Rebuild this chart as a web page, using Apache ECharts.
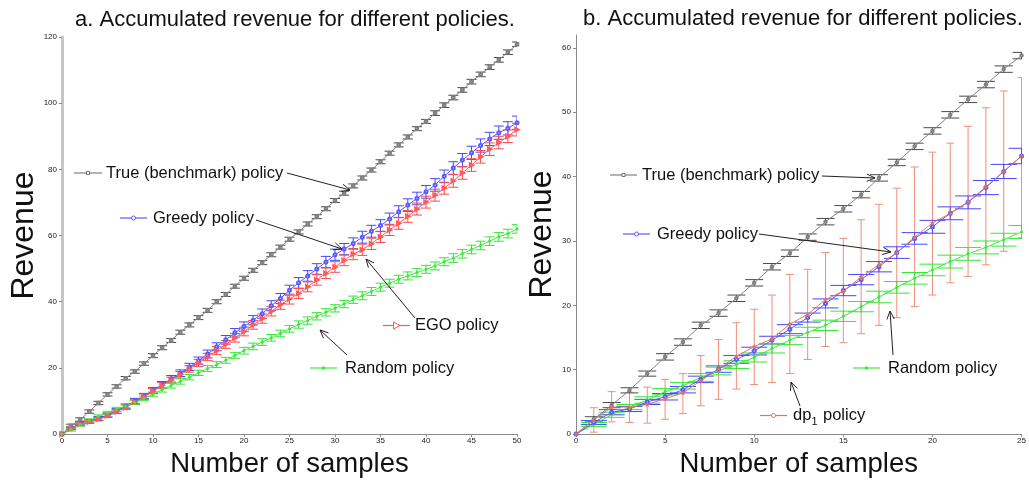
<!DOCTYPE html>
<html>
<head>
<meta charset="utf-8">
<script src="https://cdn.jsdelivr.net/npm/echarts@6/dist/echarts.min.js"></script>
<style>
  html, body { margin: 0; padding: 0; background: #fff; }
  #chart { width: 1029px; height: 483px; }
</style>
</head>
<body>
<div id="chart"></div>
<script>
// ---- panel a: 50 samples ----
const samplesA = [0, 1, 2, 3, 4, 5, 6, 7, 8, 9, 10, 11, 12, 13, 14, 15, 16, 17, 18, 19, 20,
  21, 22, 23, 24, 25, 26, 27, 28, 29, 30, 31, 32, 33, 34, 35, 36, 37, 38, 39, 40,
  41, 42, 43, 44, 45, 46, 47, 48, 49, 50]
const trueA = [0, 2.5, 4.4, 6.8, 9.4, 12.0, 14.4, 16.9, 18.9, 21.3, 23.7, 26.1, 28.3, 30.8, 33.0, 35.2,
  37.4, 40.0, 42.2, 44.7, 47.1, 49.5, 51.8, 54.2, 56.5, 58.9, 61.1, 63.5, 65.7, 68.1, 70.6,
  72.8, 75.0, 77.4, 79.8, 82.3, 84.9, 87.4, 89.8, 92.3, 94.5, 97.0, 99.4, 101.7, 104.0, 106.5,
  108.7, 110.9, 113.1, 115.4, 117.8]
const trueErrA = [0, 0.5, 0.5, 0.5, 0.5, 0.5, 0.5, 0.5, 0.5, 0.5, 0.6, 0.6, 0.6, 0.6, 0.6, 0.6,
  0.6, 0.6, 0.6, 0.6, 0.6, 0.6, 0.6, 0.6, 0.6, 0.6, 0.6, 0.6, 0.6, 0.6, 0.6,
  0.6, 0.6, 0.6, 0.6, 0.6, 0.6, 0.6, 0.6, 0.6, 0.6, 0.7, 0.7, 0.7, 0.7, 0.7,
  0.7, 0.7, 0.7, 0.7, 0.7]
const greedyA = [0, 1.8, 3.3, 3.9, 4.7, 5.8, 7.0, 8.4, 10.0, 11.5, 13.2, 15.0, 16.7, 18.4, 20.3, 22.2,
  24.2, 26.4, 28.5, 30.6, 32.5, 34.4, 36.4, 38.8, 41.0, 43.5, 45.7, 47.8, 49.9, 52.0, 54.2,
  55.9, 57.6, 59.5, 61.3, 63.0, 65.0, 67.2, 69.2, 71.2, 73.2, 75.3, 77.9, 80.4, 82.8, 85.0,
  87.2, 89.2, 91.1, 92.4, 94.1]
const greedyErrA = [0, 0.4, 0.5, 0.5, 0.6, 0.6, 0.7, 0.7, 0.8, 0.8, 0.9, 0.9, 1.0, 1.0, 1.1, 1.1,
  1.2, 1.2, 1.3, 1.3, 1.4, 1.4, 1.4, 1.5, 1.5, 1.5, 1.6, 1.6, 1.6, 1.7, 1.7,
  1.7, 1.7, 1.8, 1.8, 1.8, 1.8, 1.8, 1.9, 1.9, 1.9, 1.9, 1.9, 1.9, 2.0, 2.0,
  2.0, 2.0, 2.0, 2.0, 2.0]
const egoA = [0, 1.7, 3.1, 3.7, 4.5, 5.6, 6.8, 8.1, 9.7, 11.3, 13.0, 14.7, 16.3, 17.9, 19.7, 21.5,
  23.3, 25.2, 27.1, 29.1, 31.0, 33.0, 34.9, 37.1, 39.1, 40.8, 42.5, 44.5, 46.6, 48.6, 50.5,
  52.5, 54.4, 55.7, 57.5, 59.6, 61.7, 63.7, 65.8, 68.0, 70.1, 72.2, 74.3, 76.5, 78.9, 81.3,
  83.8, 86.1, 88.1, 90.0, 92.0]
const egoErrA = [0, 0.4, 0.5, 0.5, 0.5, 0.6, 0.6, 0.7, 0.7, 0.8, 0.8, 0.9, 0.9, 1.0, 1.0, 1.1,
  1.1, 1.2, 1.2, 1.3, 1.3, 1.3, 1.4, 1.4, 1.4, 1.5, 1.5, 1.5, 1.6, 1.6, 1.6,
  1.6, 1.7, 1.7, 1.7, 1.7, 1.7, 1.8, 1.8, 1.8, 1.8, 1.8, 1.8, 1.9, 1.9, 1.9,
  1.9, 1.9, 1.9, 1.9, 1.9]
const randomA = [0, 1.3, 2.8, 4.1, 5.3, 6.4, 7.5, 8.5, 9.6, 10.8, 12.0, 13.4, 14.7, 15.9, 17.2, 18.5,
  19.8, 21.0, 22.3, 23.8, 25.2, 26.5, 27.8, 29.1, 30.4, 31.8, 33.1, 34.3, 35.6, 36.8, 38.0,
  39.3, 40.6, 41.8, 43.1, 44.4, 45.6, 46.8, 47.8, 48.8, 49.8, 50.8, 52.1, 53.2, 54.5, 55.8,
  57.0, 58.3, 59.6, 60.6, 62.0]
const randomErrA = [0, 0.4, 0.4, 0.5, 0.5, 0.5, 0.6, 0.6, 0.6, 0.7, 0.7, 0.7, 0.8, 0.8, 0.8, 0.8,
  0.9, 0.9, 0.9, 0.9, 1.0, 1.0, 1.0, 1.0, 1.0, 1.0, 1.1, 1.1, 1.1, 1.1, 1.1,
  1.1, 1.1, 1.2, 1.2, 1.2, 1.2, 1.2, 1.2, 1.2, 1.2, 1.2, 1.2, 1.3, 1.3, 1.3,
  1.3, 1.3, 1.3, 1.3, 1.3]
const yTicksA = [0, 20, 40, 60, 80, 100, 120]
const xTicksA = [0, 5, 10, 15, 20, 25, 30, 35, 40, 45, 50]

// ---- panel b: 25 samples ----
const samplesB = [0, 1, 2, 3, 4, 5, 6, 7, 8, 9, 10, 11, 12, 13, 14, 15, 16, 17, 18, 19, 20, 21, 22, 23, 24, 25]
const trueB = [0, 2.3, 4.5, 6.8, 9.4, 12.0, 14.3, 16.9, 18.8, 21.1, 23.5, 26.0, 28.1, 30.6, 33.0, 35.0,
  37.2, 39.8, 42.2, 44.7, 47.1, 49.6, 52.0, 54.3, 56.7, 58.8]
const trueErrB = [0, 0.4, 0.4, 0.4, 0.4, 0.5, 0.5, 0.5, 0.5, 0.5, 0.5, 0.5, 0.5, 0.5, 0.5, 0.5,
  0.5, 0.5, 0.5, 0.5, 0.5, 0.5, 0.5, 0.5, 0.5, 0.5]
const greedyB = [0, 1.8, 3.4, 3.9, 5.0, 5.8, 6.9, 8.5, 10.1, 11.6, 12.9, 14.6, 16.3, 18.1, 20.3, 22.3,
  24.0, 26.0, 28.2, 30.4, 32.2, 34.3, 36.0, 38.3, 40.8, 43.2]
const greedyErrB = [0, 0.3, 0.4, 0.4, 0.4, 0.5, 0.5, 0.5, 0.5, 0.6, 0.6, 0.6, 0.7, 0.7, 0.7, 0.8,
  0.8, 0.8, 0.9, 0.9, 1.0, 1.0, 1.0, 1.1, 1.1, 1.2]
const dp1B = [0, 2.2, 4.2, 4.2, 4.6, 5.5, 6.4, 8.3, 10.1, 12.1, 13.6, 14.8, 17.1, 18.6, 20.9, 22.2,
  24.4, 26.3, 28.2, 30.6, 32.8, 34.3, 36.1, 38.4, 40.8, 43.2]
const dp1HighB = [0, 4.1, 6.6, 6.5, 7.3, 8.5, 9.4, 12.2, 14.7, 17.3, 19.4, 21.6, 24.8, 25.6, 28.2, 30.4,
  33.3, 35.7, 38.2, 41.5, 43.8, 45.2, 47.8, 50.7, 53.3, 55.4]
const dp1LowB = [0, 0.3, 1.9, 1.8, 1.7, 2.3, 3.2, 4.4, 5.4, 7.0, 7.7, 8.0, 9.4, 11.6, 13.6, 14.2,
  15.6, 16.9, 18.1, 19.8, 21.6, 23.5, 24.5, 26.3, 28.4, 30.5]
const randomB = [0, 1.5, 3.0, 4.2, 5.3, 6.6, 7.5, 8.8, 9.8, 10.8, 11.9, 13.3, 14.6, 15.8, 16.9, 18.3,
  19.8, 21.3, 22.8, 24.2, 25.5, 26.8, 28.0, 29.0, 30.2, 31.4]
const randomErrB = [0, 0.3, 0.4, 0.4, 0.5, 0.5, 0.5, 0.6, 0.6, 0.6, 0.7, 0.7, 0.7, 0.8, 0.8, 0.8,
  0.8, 0.9, 0.9, 0.9, 0.9, 1.0, 1.0, 1.0, 1.0, 1.0]
const yTicksB = [0, 10, 20, 30, 40, 50, 60]
const xTicksB = [0, 5, 10, 15, 20, 25]

const FONT = '"Liberation Sans", Arial, Helvetica, sans-serif'
const C_TRUE = '#808080', C_TRUE_BAR = '#4a4a4a'
const C_GREEDY = '#5a5aff', C_GREEDY_BAR = '#4646ff'
const C_EGO = '#ff5a5a', C_EGO_BAR = '#ff4848'
const C_RAND = '#3fe83f', C_RAND_BAR = '#33e833'
const C_DP = '#e9745d', C_DP_BAR = '#ef8e7a'
const STAR = 'path://M50,0 L61,35 L98,35 L68,57 L79,91 L50,70 L21,91 L32,57 L2,35 L39,35 Z'

const pairs = (xs, ys) => xs.map((x, i) => [x, ys[i]])
const symErr = (xs, ys, es) => xs.map((x, i) => [x, ys[i] - es[i], ys[i] + es[i]]).filter(d => d[2] > d[1])
const rangeErr = (xs, lo, hi) => xs.map((x, i) => [x, lo[i], hi[i]]).filter(d => d[2] > d[1])

function errorBars (name, idx, data, color, cap) {
  return {
    name: name,
    type: 'custom',
    xAxisIndex: idx,
    yAxisIndex: idx,
    clip: true,
    encode: { x: 0, y: [1, 2] },
    data: data,
    z: 2,
    renderItem (params, api) {
      const top = api.coord([api.value(0), api.value(2)])
      const bot = api.coord([api.value(0), api.value(1)])
      const st = { stroke: color, lineWidth: 1 }
      return {
        type: 'group',
        children: [
          { type: 'line', shape: { x1: top[0], y1: top[1], x2: bot[0], y2: bot[1] }, style: st },
          { type: 'line', shape: { x1: top[0] - cap, y1: top[1], x2: top[0] + cap, y2: top[1] }, style: st },
          { type: 'line', shape: { x1: bot[0] - cap, y1: bot[1], x2: bot[0] + cap, y2: bot[1] }, style: st }
        ]
      }
    }
  }
}

function curve (name, idx, data, color, symbol, size, rotate) {
  return {
    name: name,
    type: 'line',
    xAxisIndex: idx,
    yAxisIndex: idx,
    data: data,
    symbol: symbol,
    symbolSize: size,
    symbolRotate: rotate || 0,
    showAllSymbol: true,
    z: 3,
    lineStyle: { color: color, width: 1 },
    itemStyle: { color: color, borderColor: color, borderWidth: 0.7 }
  }
}

// annotation helpers (pixel layout)
function arrow (x1, y1, x2, y2) {
  const a = Math.atan2(y2 - y1, x2 - x1)
  const L = 9, phi = 0.42
  return [
    { type: 'line', shape: { x1: x1, y1: y1, x2: x2, y2: y2 }, style: { stroke: '#222', lineWidth: 1 }, z: 10 },
    { type: 'polyline', shape: { points: [
      [x2 - L * Math.cos(a - phi), y2 - L * Math.sin(a - phi)], [x2, y2],
      [x2 - L * Math.cos(a + phi), y2 - L * Math.sin(a + phi)]] },
      style: { stroke: '#222', lineWidth: 1, fill: null }, z: 10 }
  ]
}
function sample (x1, x2, y, color, marker) {
  const cx = (x1 + x2) / 2
  const els = [{ type: 'line', shape: { x1: x1, y1: y, x2: x2, y2: y }, style: { stroke: color, lineWidth: 1.2 }, z: 10 }]
  if (marker === 'rect') els.push({ type: 'rect', shape: { x: cx - 1.5, y: y - 1.5, width: 3, height: 3 }, style: { stroke: '#555', fill: '#fff', lineWidth: 0.8 }, z: 11 })
  if (marker === 'circle') els.push({ type: 'circle', shape: { cx: cx, cy: y, r: 2 }, style: { stroke: color, fill: '#fff' }, z: 11 })
  if (marker === 'tri') els.push({ type: 'polygon', shape: { points: [[cx - 3, y - 3.5], [cx + 3.5, y], [cx - 3, y + 3.5]] }, style: { stroke: color, fill: '#fff' }, z: 11 })
  if (marker === 'dot') els.push({ type: 'circle', shape: { cx: cx, cy: y, r: 1.8 }, style: { fill: color }, z: 11 })
  if (marker === 'star') els.push({ type: 'circle', shape: { cx: cx, cy: y, r: 2 }, style: { stroke: color, fill: '#fff' }, z: 11 })
  return els
}
function label (x, y, text, size, align) {
  return { type: 'text', x: x, y: y, z: 12,
    style: { text: text, fontSize: size || 16.5, fontFamily: FONT, fill: '#111', textAlign: align || 'left', textVerticalAlign: 'middle' } }
}

const graphics = [].concat(
  label(295, 20, 'a. Accumulated revenue for different policies.', 22, 'center'),
  label(803, 19, 'b. Accumulated revenue for different policies.', 22, 'center'),
  // panel a notes
  sample(74, 102, 173, C_TRUE, 'rect'), label(106, 173, 'True (benchmark) policy'), arrow(287, 173, 350, 190),
  sample(120, 147, 218, C_GREEDY, 'circle'), label(153, 218, 'Greedy policy'), arrow(256, 220, 342, 249),
  sample(383, 410, 325.5, C_EGO, 'tri'), label(415, 325.5, 'EGO policy'), arrow(415, 318, 366, 259),
  sample(310, 337, 368, C_RAND, 'dot'), label(345, 368, 'Random policy'), arrow(347, 355, 320, 330),
  // panel b notes
  sample(610, 637, 175, C_TRUE, 'rect'), label(642, 175, 'True (benchmark) policy'), arrow(822, 176, 875, 178),
  sample(623, 650, 234, C_GREEDY, 'circle'), label(657, 234, 'Greedy policy'), arrow(759, 234, 891, 252),
  sample(853, 880, 368, C_RAND, 'dot'), label(888, 368, 'Random policy'), arrow(893, 355, 890, 311),
  sample(760, 787, 415.5, C_DP, 'star'), label(793, 415, 'dp'), label(811.5, 422, '1', 11), label(823, 415, 'policy'),
  arrow(800, 406, 791, 382)
)

const axisText = { fontSize: 8, color: '#222', fontFamily: FONT }
const nameText = { fontFamily: FONT, color: '#111' }

const chart = echarts.init(document.getElementById('chart'), null, { renderer: 'canvas' })
chart.setOption({
  backgroundColor: '#fff',
  animation: false,
  grid: [
    { left: 62, top: 37, width: 455, height: 409 },
    { left: 576, top: 35, width: 449, height: 410 }
  ],
  xAxis: [
    {
      gridIndex: 0, type: 'value', min: 0, max: 50, interval: 5,
      name: 'Number of samples', nameLocation: 'middle', nameGap: 13,
      nameTextStyle: Object.assign({ fontSize: 27.5, verticalAlign: 'top' }, nameText),
      axisLine: { lineStyle: { color: '#8a8a8a', width: 1 } },
      axisTick: { length: 3, lineStyle: { color: '#8a8a8a' }, customValues: xTicksA },
      axisLabel: Object.assign({ margin: 3, customValues: xTicksA }, axisText),
      splitLine: { show: false }
    },
    {
      gridIndex: 1, type: 'value', min: 0, max: 25, interval: 5,
      name: 'Number of samples', nameLocation: 'middle', nameGap: 13,
      nameTextStyle: Object.assign({ fontSize: 27.5, verticalAlign: 'top' }, nameText),
      axisLine: { lineStyle: { color: '#8a8a8a', width: 1 } },
      axisTick: { length: 3, lineStyle: { color: '#8a8a8a' }, customValues: xTicksB },
      axisLabel: Object.assign({ margin: 3, customValues: xTicksB }, axisText),
      splitLine: { show: false }
    }
  ],
  yAxis: [
    {
      gridIndex: 0, type: 'value', min: 0, max: 120, interval: 20,
      name: 'Revenue', nameLocation: 'middle', nameGap: 18, nameRotate: 90,
      nameTextStyle: Object.assign({ fontSize: 32 }, nameText),
      axisLine: { show: true, lineStyle: { color: '#c6c6c6', width: 3 } },
      axisTick: { show: true, length: 3, lineStyle: { color: '#8a8a8a' }, customValues: yTicksA },
      axisLabel: Object.assign({ margin: 5, customValues: yTicksA }, axisText),
      splitLine: { show: false }
    },
    {
      gridIndex: 1, type: 'value', min: 0, max: 62,
      name: 'Revenue', nameLocation: 'middle', nameGap: 13, nameRotate: 90,
      nameTextStyle: Object.assign({ fontSize: 32 }, nameText),
      axisLine: { show: true, lineStyle: { color: '#8a8a8a', width: 1 } },
      axisTick: { show: true, length: 3, lineStyle: { color: '#8a8a8a' }, customValues: yTicksB },
      axisLabel: Object.assign({ margin: 5, customValues: yTicksB }, axisText),
      splitLine: { show: false }
    }
  ],
  series: [
    errorBars('True err a', 0, symErr(samplesA, trueA, trueErrA), C_TRUE_BAR, 5),
    errorBars('Greedy err a', 0, symErr(samplesA, greedyA, greedyErrA), C_GREEDY_BAR, 5),
    errorBars('EGO err a', 0, symErr(samplesA, egoA, egoErrA), C_EGO_BAR, 5),
    errorBars('Random err a', 0, symErr(samplesA, randomA, randomErrA), C_RAND_BAR, 5),
    curve('True (benchmark) policy', 0, pairs(samplesA, trueA), C_TRUE, 'emptyRect', 2.5),
    curve('Greedy policy', 0, pairs(samplesA, greedyA), C_GREEDY, 'emptyCircle', 3),
    curve('EGO policy', 0, pairs(samplesA, egoA), C_EGO, 'emptyTriangle', 3.5, -90),
    curve('Random policy', 0, pairs(samplesA, randomA), C_RAND, 'circle', 2.5),

    errorBars('dp1 err b', 1, rangeErr(samplesB, dp1LowB, dp1HighB), C_DP_BAR, 4),
    errorBars('True err b', 1, symErr(samplesB, trueB, trueErrB), C_TRUE_BAR, 9),
    errorBars('Greedy err b', 1, symErr(samplesB, greedyB, greedyErrB), C_GREEDY_BAR, 13),
    errorBars('Random err b', 1, symErr(samplesB, randomB, randomErrB), C_RAND_BAR, 13),
    curve('True (benchmark) policy b', 1, pairs(samplesB, trueB), C_TRUE, 'emptyCircle', 2.5),
    curve('Random policy b', 1, pairs(samplesB, randomB), C_RAND, 'circle', 2.5),
    curve('Greedy policy b', 1, pairs(samplesB, greedyB), C_GREEDY, 'emptyCircle', 3),
    curve('dp1 policy', 1, pairs(samplesB, dp1B), C_DP, STAR, 4)
  ],
  graphic: graphics
})
</script>
</body>
</html>
